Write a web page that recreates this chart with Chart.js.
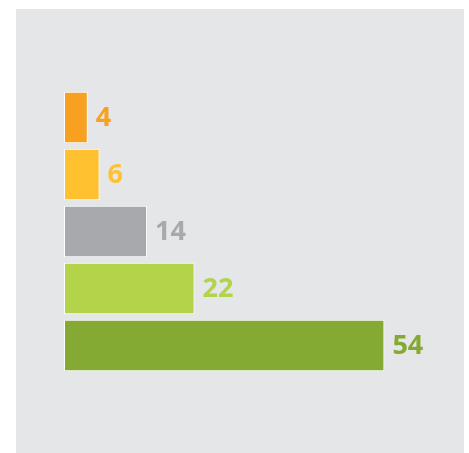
<!DOCTYPE html>
<html>
<head>
<meta charset="utf-8">
<script src="https://cdn.jsdelivr.net/npm/chart.js@4/dist/chart.umd.min.js"></script>
<style>
  html, body { margin: 0; padding: 0; background: #fff; }
  #panel {
    position: absolute;
    left: 16px;
    top: 9px;
    width: 448px;
    height: 444px;
    background: #e5e6e8;
  }
  #barChart { display: block; }
</style>
</head>
<body>
<div id="panel">
  <canvas id="barChart" width="448" height="444"></canvas>
</div>
<script>
const groups = ["Group A", "Group B", "Group C", "Group D", "Group E"];
const counts = [4, 6, 14, 22, 54];
const barColors = ["#f8a01f", "#ffc130", "#a7a9ac", "#b2d34a", "#84aa33"];
const labelColors = ["#f8a01f", "#fdc232", "#a7a9ac", "#b2d34a", "#84aa33"];

// write each count just past the end of its bar, in the bar's colour
const valueLabels = {
  id: "valueLabels",
  afterDatasetsDraw(chart) {
    const ctx = chart.ctx;
    const meta = chart.getDatasetMeta(0);
    ctx.save();
    ctx.font = "bold 27px 'Open Sans'";
    ctx.textAlign = "left";
    ctx.textBaseline = "middle";
    meta.data.forEach((bar, i) => {
      ctx.fillStyle = labelColors[i];
      ctx.fillText(String(counts[i]), bar.x + 8, bar.y + 1);
    });
    ctx.restore();
  }
};

new Chart(document.getElementById("barChart"), {
  type: "bar",
  data: {
    labels: groups,
    datasets: [{
      data: counts,
      backgroundColor: barColors,
      borderColor: "#ffffff",
      borderWidth: 1,
      borderSkipped: false,
      barPercentage: 0.9,
      categoryPercentage: 1.0
    }]
  },
  options: {
    indexAxis: "y",
    responsive: false,
    animation: false,
    layout: { padding: { left: 48, right: 44, top: 80, bottom: 79 } },
    scales: {
      x: { min: 0, max: 60, display: false },
      y: { display: false }
    },
    plugins: {
      legend: { display: false },
      tooltip: { enabled: false }
    }
  },
  plugins: [valueLabels]
});
</script>
</body>
</html>
